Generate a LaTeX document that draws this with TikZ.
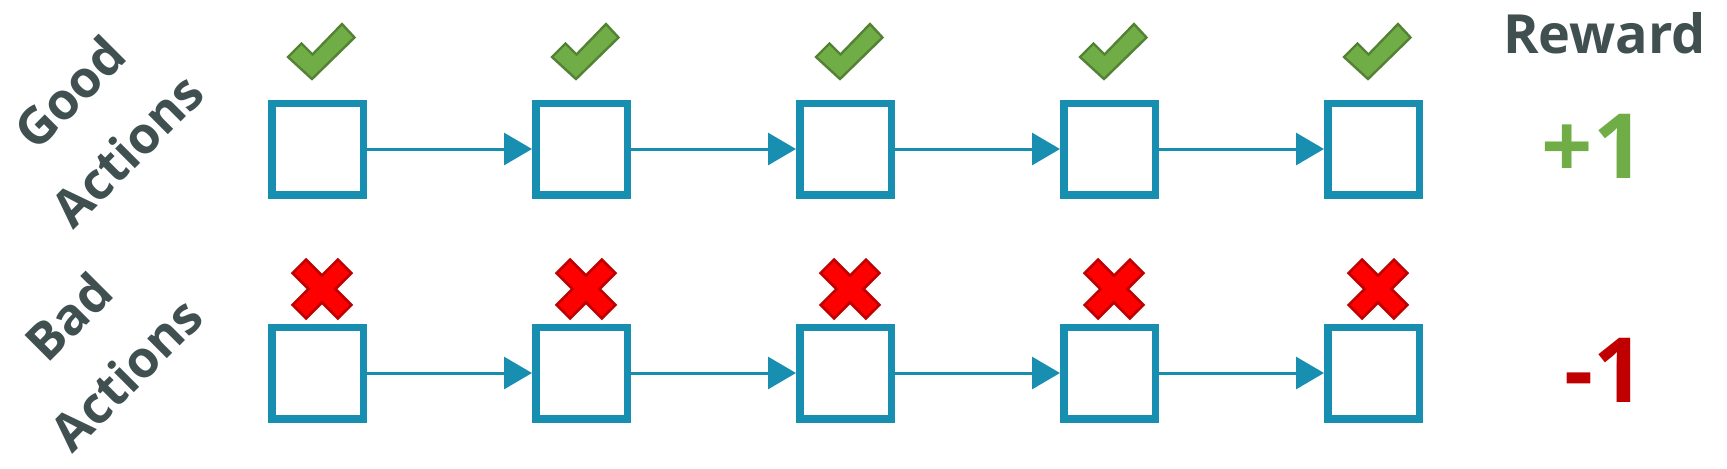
\documentclass[tikz,border=0pt]{standalone}
\usepackage{fontspec}
\setmainfont{Open Sans}
\usetikzlibrary{arrows.meta}
\definecolor{boxblue}{RGB}{24,143,176}
\definecolor{chkfill}{RGB}{112,173,71}
\definecolor{chkline}{RGB}{84,130,53}
\definecolor{xfill}{RGB}{255,0,0}
\definecolor{xline}{RGB}{192,0,0}
\definecolor{txtdark}{RGB}{64,80,81}
\definecolor{plusgreen}{RGB}{112,173,71}
\definecolor{minusred}{RGB}{192,0,0}
\begin{document}
\begin{tikzpicture}[x=0.5pt,y=-0.5pt,
  statebox/.style={draw=boxblue,line width=3.75pt,minimum size=45.75pt,inner sep=0pt,fill=white},
  flow/.style={draw=boxblue,line width=1.5pt,-{Triangle[length=14pt,width=16pt]}},
  lbl/.style={text=txtdark,font=\bfseries\fontsize{25.5pt}{40.5pt}\selectfont,rotate=45,inner sep=0pt,align=center},
  checkmark/.style={fill=chkfill,draw=chkline,line width=1.2pt,line join=miter},
  crossmark/.style={fill=xfill,draw=xline,line width=1.3pt,line join=miter},
  reward/.style={inner sep=0pt,font=\bfseries\fontsize{45pt}{50pt}\selectfont}]
\useasboundingbox (0,0) rectangle (1727,468);
\foreach \i in {0,...,4} {
  \pgfmathsetmacro\cx{317.5+264*\i}
  \node[statebox] (g\i) at (\cx,149) {};
  \node[statebox] (b\i) at (\cx,373) {};
  \draw[checkmark,shift={(\cx,0)}] (-29.5,57) -- (-16,43.5) -- (-5,54.5) -- (24.5,24) -- (37,37.5) -- (-5.5,79) -- cycle;
  \begin{scope}[shift={(\cx+4.5,289)},rotate=45]
    \draw[crossmark] (-9.5,32) -- (9.5,32) -- (9.5,9.5) -- (32,9.5) -- (32,-9.5) -- (9.5,-9.5) -- (9.5,-32) -- (-9.5,-32) -- (-9.5,-9.5) -- (-32,-9.5) -- (-32,9.5) -- (-9.5,9.5) -- cycle;
  \end{scope}
}
\foreach \i/\j in {0/1,1/2,2/3,3/4} {
  \draw[flow] (g\i) -- (g\j);
  \draw[flow] (b\i) -- (b\j);
}
\node[lbl] (goodlbl) at (98,121) {Good\\Actions};
\node[lbl] (badlbl) at (97,345) {Bad\\Actions};
\node[anchor=base,inner sep=0pt,text=txtdark,font=\bfseries\fontsize{27pt}{32pt}\selectfont] (rewardhead) at (1604.5,53) {Reward};
\node[reward,anchor=base east,text=plusgreen] (plusone) at (1645,178) {+1};
\node[reward,anchor=base east,text=minusred] (minusone) at (1645,402) {-1};
\end{tikzpicture}
\end{document}
